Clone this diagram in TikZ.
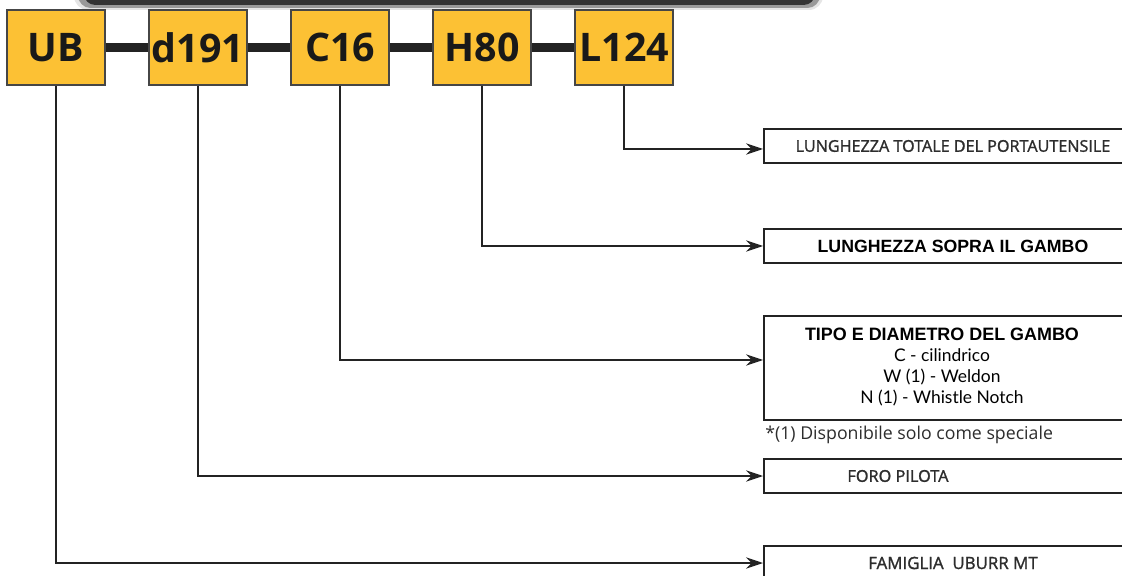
\documentclass[tikz,border=0pt]{standalone}
\usepackage{fontspec}
\setmainfont{Open Sans}
\newfontfamily\semifont{Open Sans}[UprightFeatures={FakeBold=1.4}]
\newfontfamily\arialfont{Liberation Sans}
\newfontfamily\latofont{Lato}
\usetikzlibrary{positioning,arrows.meta}
\definecolor{codeyellow}{RGB}{252,193,52}
\definecolor{codeborder}{RGB}{70,70,70}
\definecolor{linkgray}{RGB}{35,35,35}
\definecolor{textgray}{RGB}{45,45,45}

\begin{document}
\begin{tikzpicture}[x=0.025cm, y=-0.025cm, node distance=1.065cm,
    codebox/.style={rectangle, draw=codeborder, line width=1pt, fill=codeyellow, minimum width=2.45cm, minimum height=1.875cm, inner sep=0pt, text=black!90, font=\fontsize{28}{28}\selectfont\bfseries},
    descbox/.style={rectangle, draw=linkgray, line width=1.3pt, fill=white, minimum width=9.45cm, minimum height=0.85cm, inner sep=0pt, anchor=west, align=center, text=textgray},
    bar/.style={draw=linkgray, line width=7pt},
    link/.style={draw=linkgray, line width=1.3pt, -{Stealth[length=12pt, width=8pt]}}]
  \useasboundingbox (0,0) rectangle (1122,576);
  \clip (0,0) rectangle (1122,576);

  % shadow of the panel above
  \fill[black!10, rounded corners=10pt] (74,-30) rectangle (823,10);
  \fill[black!40, rounded corners=9pt] (78,-30) rectangle (820,8);
  \fill[black!80, rounded corners=8pt] (84,-30) rectangle (815,5);

  % code
  \node[codebox] (ub) at (56,47.5) {UB};
  \node[codebox, right=of ub] (d191) {d191};
  \node[codebox, right=of d191] (c16) {C16};
  \node[codebox, right=of c16] (h80) {H80};
  \node[codebox, right=of h80] (l124) {L124};

  \draw[bar] (ub) -- (d191);
  \draw[bar] (d191) -- (c16);
  \draw[bar] (c16) -- (h80);
  \draw[bar] (h80) -- (l124);

  % descriptions
  \node[descbox, font=\semifont\fontsize{11.5}{13}\selectfont] (totlen) at (763,146) {LUNGHEZZA TOTALE DEL PORTAUTENSILE};
  \node[descbox, text=black, font=\arialfont\bfseries\fontsize{12.6}{14}\selectfont] (overlen) at (763,246) {LUNGHEZZA SOPRA IL GAMBO};
  \node[descbox, minimum height=2.6cm, text=black, font=\latofont\fontsize{12.4}{15}\selectfont] (shank) at (763,368)
    {\begin{tabular}{@{}c@{}}{\arialfont\bfseries\fontsize{12.75}{15}\selectfont TIPO E DIAMETRO DEL GAMBO}\\
      C - cilindrico\\ W (1) - Weldon\\ N (1) - Whistle Notch\end{tabular}\hspace{0.55cm}};
  \node[anchor=west, inner sep=0pt, text=textgray, font=\fontsize{12.6}{14}\selectfont] (note) at (765,435) {*(1) Disponibile solo come speciale};
  \node[descbox, font=\semifont\fontsize{11.6}{13}\selectfont] (pilot) at (763,476) {FORO PILOTA\hspace{2.75cm}};
  \node[descbox, font=\semifont\fontsize{12}{13}\selectfont] (family) at (763,563) {FAMIGLIA\ \ UBURR MT};

  % connectors
  \draw[link] (l124.south) |- ([yshift=-0.075cm]totlen.west);
  \draw[link] (h80.south) |- (overlen.west);
  \draw[link] (c16.south) |- ([yshift=0.2cm]shank.west);
  \draw[link] (d191.south) |- (pilot.west);
  \draw[link] (ub.south) |- (family.west);
\end{tikzpicture}
\end{document}
